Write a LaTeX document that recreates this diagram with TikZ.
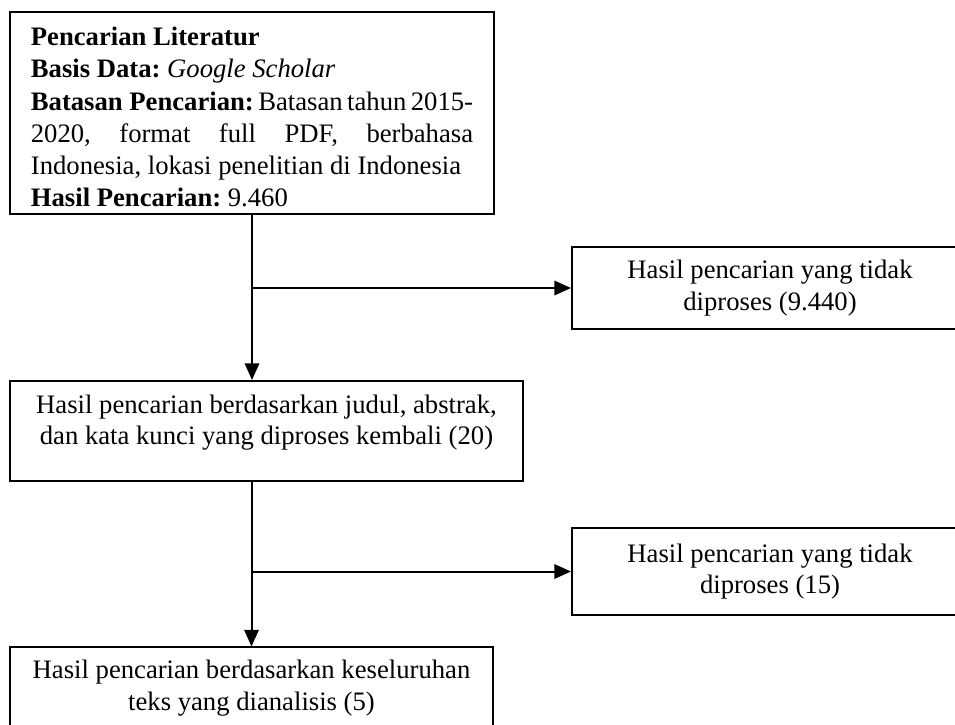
\documentclass[tikz,border=0pt]{standalone}
\usepackage{fontspec}
\setmainfont{Liberation Serif}
\usepackage{tikz}
\usetikzlibrary{arrows.meta}
\frenchspacing

\begin{document}
\begin{tikzpicture}[x=0.45pt,y=-0.45pt,
  flowbox/.style={draw,line width=0.9pt,inner sep=0pt,align=center,
    font=\fontsize{12}{14.2}\selectfont\frenchspacing},
  flowarrow/.style={line width=0.9pt,-{Triangle[length=7.5pt,width=6.5pt]}}]
  \useasboundingbox (0,0) rectangle (955,724);
  \node[flowbox,align=left,text width=199pt,inner xsep=9.4pt,minimum height=90.9pt,
        font=\fontsize{12}{14.5}\selectfont\frenchspacing] (search) at (252,113)
    {\spaceskip=0pt\relax\mbox{}\\[-2.4pt]
     \textbf{Pencarian Literatur}\\
     \textbf{Basis Data:} \textit{Google Scholar}\\
     \makebox[199pt][l]{\textbf{Batasan Pencarian:}\hfill Batasan\hfill tahun\hfill 2015-}\\
     \makebox[199pt][l]{2020,\hfill format\hfill full\hfill PDF,\hfill berbahasa}\\
     Indonesia, lokasi penelitian di Indonesia\\
     \textbf{Hasil Pencarian:} 9.460};
  \node[flowbox,minimum width=178.2pt,minimum height=36.9pt] (dropone) at (770,288)
    {Hasil pencarian yang tidak\\diproses (9.440)};
  \node[flowbox,minimum width=230.9pt,minimum height=45pt] (screen) at (266.5,431)
    {Hasil pencarian berdasarkan judul, abstrak,\\dan kata kunci yang diproses kembali (20)\\[-4pt]\mbox{}};
  \node[flowbox,minimum width=178.2pt,minimum height=39.15pt] (droptwo) at (770,571.5)
    {Hasil pencarian yang tidak\\diproses (15)};
  \node[flowbox,minimum width=217.35pt,minimum height=36.5pt] (final) at (251.5,688)
    {Hasil pencarian berdasarkan keseluruhan\\teks yang dianalisis (5)};
  \draw[flowarrow] (search.south) -- (search.south |- screen.north);
  \draw[flowarrow] (search.south |- dropone.west) -- (dropone.west);
  \draw[flowarrow] (final.north |- screen.south) -- (final.north);
  \draw[flowarrow] (final.north |- droptwo.west) -- (droptwo.west);
\end{tikzpicture}
\end{document}
